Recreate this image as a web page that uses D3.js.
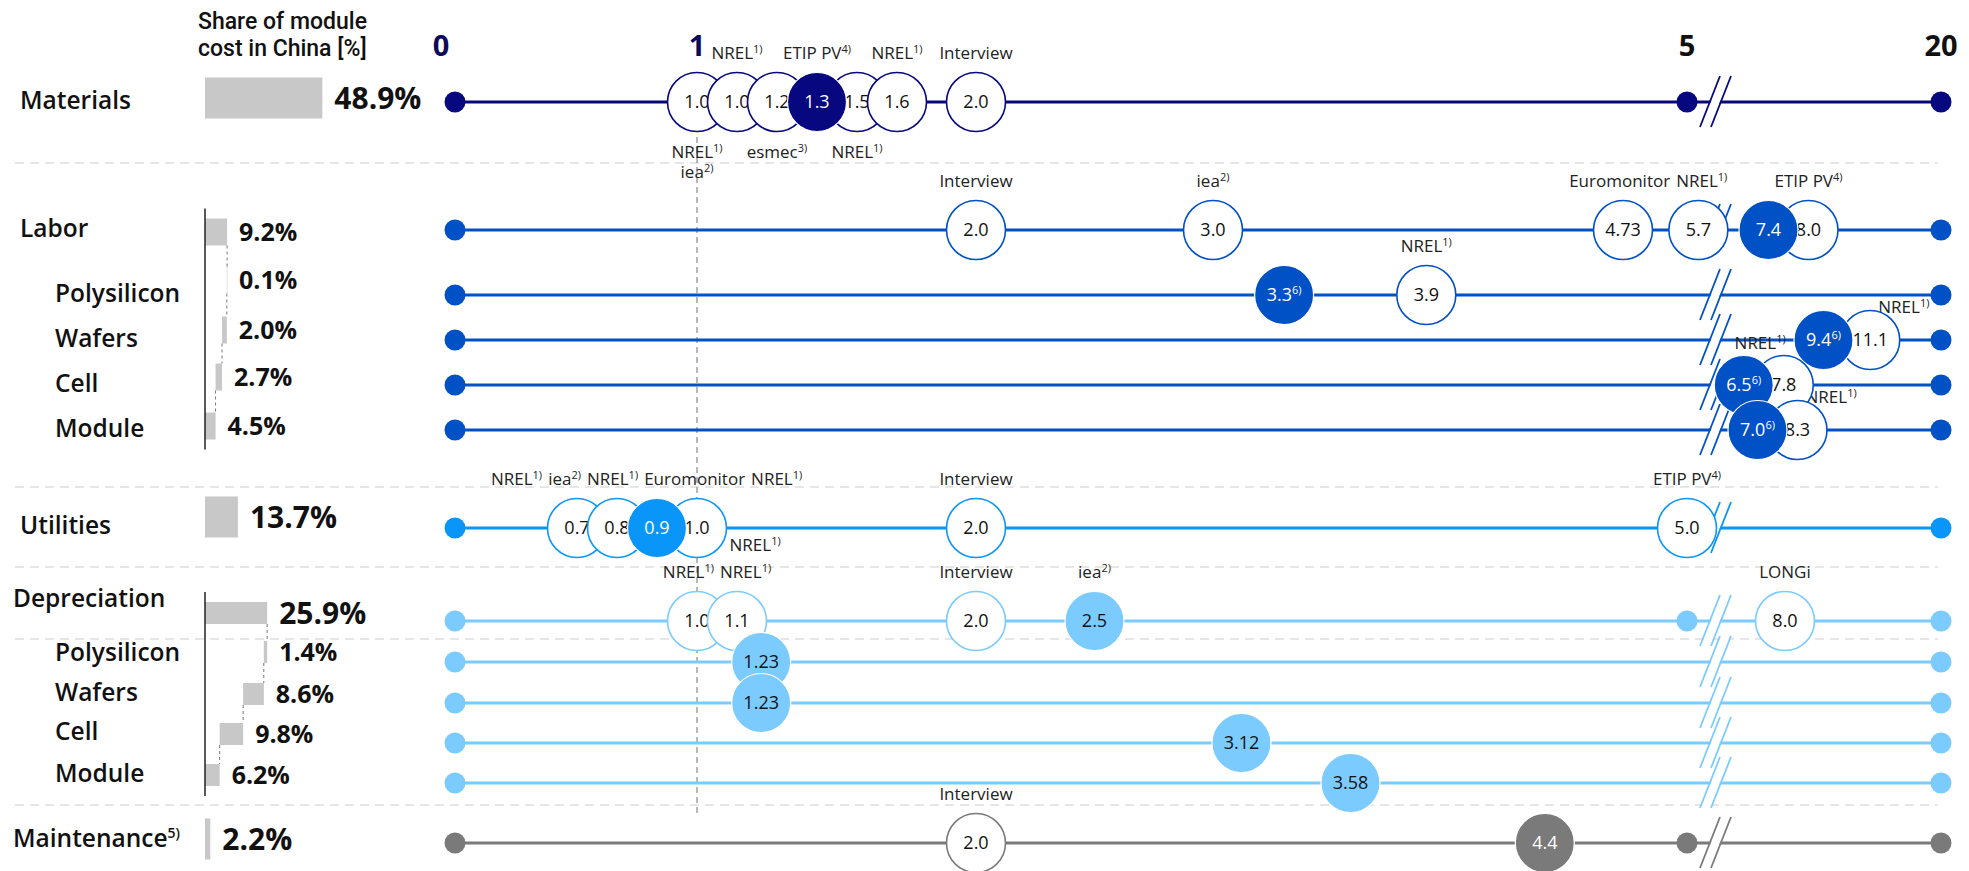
<!DOCTYPE html>
<html>
<head>
<meta charset="utf-8">
<script src="https://cdn.jsdelivr.net/npm/d3@7"></script>
<style>
  body { margin: 0; background: #fff; }
  text { font-family: "Open Sans", sans-serif; }
</style>
</head>
<body>
<div id="chart"></div>
<script>
// ---- data ----
var rowKeys   = ["mat", "lab", "labPoly", "labWaf", "labCell", "labMod", "util", "dep", "depPoly", "depWaf", "depCell", "depMod", "maint"];
var rowNames  = ["Materials", "Labor", "Polysilicon", "Wafers", "Cell", "Module", "Utilities", "Depreciation", "Polysilicon", "Wafers", "Cell", "Module", "Maintenance"];
var rowNotes  = ["", "", "", "", "", "", "", "", "", "", "", "", "5)"];
var rowGroups = ["mat", "lab", "lab", "lab", "lab", "lab", "util", "dep", "dep", "dep", "dep", "dep", "maint"];
var rowShares = [48.9, 9.2, 0.1, 2.0, 2.7, 4.5, 13.7, 25.9, 1.4, 8.6, 9.8, 6.2, 2.2];
var axisTicks = [0, 1, 5, 20];

// estimates: value, hi = highlighted (filled), note, sources [name, footnote, side]
var estMaterials = [
  {v: 1.0, src: [["NREL", "1)", "s"], ["iea", "2)", "s"]]},
  {v: 1.0, src: [["NREL", "1)", "n"]]},
  {v: 1.2, src: [["esmec", "3)", "s"]]},
  {v: 1.3, hi: true, src: [["ETIP PV", "4)", "n"]]},
  {v: 1.5, src: [["NREL", "1)", "s"]]},
  {v: 1.6, src: [["NREL", "1)", "n"]]},
  {v: 2.0, src: [["Interview", "", "n"]]}
];
var estLabor = [
  {v: 2.0, src: [["Interview", "", "n"]]},
  {v: 3.0, src: [["iea", "2)", "n"]]},
  {v: 4.73, src: [["Euromonitor", "", "n"]]},
  {v: 5.7, src: [["NREL", "1)", "n"]]},
  {v: 7.4, hi: true},
  {v: 8.0, src: [["ETIP PV", "4)", "n"]]}
];
var estLabPoly = [{v: 3.3, hi: true, note: "6)"}, {v: 3.9, src: [["NREL", "1)", "n"]]}];
var estLabWaf  = [{v: 9.4, hi: true, note: "6)"}, {v: 11.1, src: [["NREL", "1)", "ne"]]}];
var estLabCell = [{v: 6.5, hi: true, note: "6)"}, {v: 7.8, src: [["NREL", "1)", "nw"]]}];
var estLabMod  = [{v: 7.0, hi: true, note: "6)"}, {v: 8.3, src: [["NREL", "1)", "ne"]]}];
var estUtilities = [
  {v: 0.7, src: [["NREL", "1)", "n"], ["iea", "2)", "n"]]},
  {v: 0.8, src: [["NREL", "1)", "n"]]},
  {v: 0.9, hi: true},
  {v: 1.0, src: [["Euromonitor", "", "n"], ["NREL", "1)", "n"], ["NREL", "1)", "se"]]},
  {v: 2.0, src: [["Interview", "", "n"]]},
  {v: 5.0, src: [["ETIP PV", "4)", "n"]]}
];
var estDepreciation = [
  {v: 1.0, src: [["NREL", "1)", "n"]]},
  {v: 1.1, src: [["NREL", "1)", "n"]]},
  {v: 2.0, src: [["Interview", "", "n"]]},
  {v: 2.5, hi: true, src: [["iea", "2)", "n"]]},
  {v: 8.0, src: [["LONGi", "", "n"]]}
];
var estDepPoly = [{v: 1.23, hi: true}];
var estDepWaf  = [{v: 1.23, hi: true}];
var estDepCell = [{v: 3.12, hi: true}];
var estDepMod  = [{v: 3.58, hi: true}];
var estMaintenance = [{v: 2.0, src: [["Interview", "", "n"]]}, {v: 4.4, hi: true}];

var estimates = [estMaterials, estLabor, estLabPoly, estLabWaf, estLabCell, estLabMod,
                 estUtilities, estDepreciation, estDepPoly, estDepWaf, estDepCell, estDepMod, estMaintenance];

// ---- layout ----
var W = 1969, H = 871;
var R = 29.5, DOT = 10.5, GAP = 40;
var X0 = 205;

var svg = d3.select("#chart").append("svg").attr("width", W).attr("height", H);

// broken axis: 0..5 wide, 5..20 squeezed behind the break
var x = d3.scaleLinear()
  .domain([0, 1, 2, 5, 5.8, 6, 12, 20])
  .range([455, 697, 976, 1687, 1700, 1730, 1895, 1941]);
var breakX = x(5.9);

var share = d3.scaleLinear().domain([0, 100]).range([0, 240]);

var lineY = d3.scaleOrdinal().domain(rowKeys).range([102, 230, 295, 340, 385, 430, 528, 621, 662, 703, 743, 783, 843]);
var barY  = d3.scaleOrdinal().domain(rowKeys).range([98, 232, 280, 330, 377, 426, 517, 613, 652, 694, 734, 775, 839]);
var nameY = d3.scaleOrdinal().domain(rowKeys).range([100, 228, 293, 338, 383, 428, 525, 598, 652, 692, 731, 773, 838]);

var colorOf = d3.scaleOrdinal()
  .domain(["mat", "lab", "util", "dep", "maint"])
  .range(["#07077F", "#0050C6", "#0A96F8", "#7BCBFF", "#7A7A7A"]);

function isMain(i) { return rowKeys[i] === rowGroups[i]; }
function barH(i) {
  var g = rowGroups[i];
  if (g === "lab") return 27;
  if (g === "dep") return 22;
  return 41;
}
function fmt(v) {
  return Math.abs(v * 10 - Math.round(v * 10)) < 1e-9 ? v.toFixed(1) : v.toFixed(2);
}
function sup(sel, main, note, size, shift) {
  sel.append("tspan").text(main);
  if (note) sel.append("tspan").attr("font-size", size).attr("dy", -shift).text(note);
}

// ---- separators ----
var sepY = [163, 487, 567, 639, 805];
svg.selectAll(".sep").data(sepY).enter().append("line")
  .attr("x1", 15).attr("x2", 1938)
  .attr("y1", function(d) { return d; }).attr("y2", function(d) { return d; })
  .attr("stroke", "#dedede").attr("stroke-width", 1.6).attr("stroke-dasharray", "9,6");

// reference line at 1
svg.append("line")
  .attr("x1", x(1)).attr("x2", x(1)).attr("y1", 137).attr("y2", 815)
  .attr("stroke", "#8a8a8a").attr("stroke-width", 1.2).attr("stroke-dasharray", "6,4");

// ---- left table: share of module cost (waterfall) ----
var barX = [], cursor = X0;
rowKeys.forEach(function(k, i) {
  var w = share(rowShares[i]);
  if (isMain(i)) { barX[i] = [X0, X0 + w]; cursor = X0 + w; }
  else { barX[i] = [cursor - w, cursor]; cursor -= w; }
});

var table = svg.append("g");
table.selectAll("rect").data(rowKeys).enter().append("rect")
  .attr("x", function(d, i) { return barX[i][0]; })
  .attr("y", function(d, i) { return barY(d) - barH(i) / 2; })
  .attr("width", function(d, i) { return Math.max(0.5, barX[i][1] - barX[i][0]); })
  .attr("height", function(d, i) { return barH(i); })
  .attr("fill", "#c8c8c8");

// dashed connectors between waterfall steps
rowKeys.forEach(function(k, i) {
  if (isMain(i)) return;
  var p = rowKeys[i - 1];
  table.append("line")
    .attr("x1", barX[i][1]).attr("x2", barX[i][1])
    .attr("y1", barY(p) + barH(i - 1) / 2).attr("y2", barY(k) - barH(i) / 2)
    .attr("stroke", "#777").attr("stroke-width", 1).attr("stroke-dasharray", "3,3");
});

// group axes
["lab", "dep"].forEach(function(g) {
  var idx = rowGroups.map(function(d, i) { return d === g ? i : -1; }).filter(function(i) { return i >= 0; });
  var a = idx[0], b = idx[idx.length - 1];
  table.append("line")
    .attr("x1", X0).attr("x2", X0)
    .attr("y1", barY(rowKeys[a]) - barH(a) / 2 - 10)
    .attr("y2", barY(rowKeys[b]) + barH(b) / 2 + 10)
    .attr("stroke", "#222").attr("stroke-width", 1.5);
});

table.selectAll(".pct").data(rowKeys).enter().append("text")
  .attr("x", function(d, i) { return barX[i][1] + 12; })
  .attr("y", function(d) { return barY(d); })
  .attr("dy", "0.36em")
  .attr("font-size", function(d, i) { return (isMain(i) && d !== "lab") ? 30 : 25; })
  .attr("font-weight", 700).attr("fill", "#111")
  .text(function(d, i) { return rowShares[i].toFixed(1) + "%"; });

table.selectAll(".name").data(rowKeys).enter().append("text")
  .attr("x", function(d, i) { return isMain(i) ? (d === "dep" || d === "maint" ? 13 : 20) : 55; })
  .attr("y", function(d) { return nameY(d); })
  .attr("dy", "0.36em")
  .attr("font-size", 24.5).attr("font-weight", 600).attr("fill", "#111")
  .each(function(d, i) { sup(d3.select(this), rowNames[i], rowNotes[i], 14, 9); });

// header, one text per line
[["Share of module", 29], ["cost in China [%]", 56]].forEach(function(h) {
  svg.append("text").attr("x", 198).attr("y", h[1])
    .style("font-family", "Roboto, sans-serif")
    .attr("font-size", 23).attr("font-weight", 500).attr("fill", "#111")
    .text(h[0]);
});

// axis tick labels
svg.selectAll(".tick").data(axisTicks).enter().append("text")
  .attr("x", function(d) { return x(d) - (d === 0 ? 14 : 0); })
  .attr("y", 56)
  .attr("text-anchor", "middle")
  .attr("font-size", 29).attr("font-weight", 700)
  .attr("fill", function(d) { return d <= 1 ? "#0B0B5C" : "#111"; })
  .text(function(d) { return d; });

// ---- rows: lines, breaks, end dots ----
var rows = svg.append("g");
rowKeys.forEach(function(k, i) {
  var y = lineY(k), c = colorOf(rowGroups[i]);
  rows.append("line")
    .attr("x1", x(0)).attr("x2", x(20)).attr("y1", y).attr("y2", y)
    .attr("stroke", c).attr("stroke-width", 3);
  // break marks
  rows.append("polygon")
    .attr("points", [[breakX + 6, y - 26], [breakX + 15, y - 26], [breakX - 5, y + 25], [breakX - 14, y + 25]].join(" "))
    .attr("fill", "#fff");
  [0, 11].forEach(function(o) {
    rows.append("line")
      .attr("x1", breakX + o + 5).attr("y1", y - 26)
      .attr("x2", breakX + o - 15).attr("y2", y + 25)
      .attr("stroke", c).attr("stroke-width", 1.8);
  });
  var dots = isMain(i) ? [0, 5, 20] : [0, 20];
  rows.selectAll(null).data(dots).enter().append("circle")
    .attr("cx", function(d) { return x(d); }).attr("cy", y)
    .attr("r", DOT).attr("fill", c);
});

// ---- dodge circles along each row ----
function dodge(list) {
  var xs = list.map(function(d) { return x(d.v); });
  var a = list.findIndex(function(d) { return d.v >= 1; });
  if (a < 0) a = 0;
  for (var i = a + 1; i < xs.length; i++) xs[i] = Math.max(xs[i], xs[i - 1] + GAP);
  for (var j = a - 1; j >= 0; j--) xs[j] = Math.min(xs[j], xs[j + 1] - GAP);
  return xs;
}
estimates.forEach(function(list) {
  var xs = dodge(list);
  list.forEach(function(d, j) { d.x = xs[j]; });
});

// pack source labels so they do not collide
function pack(list, gap) {
  var cls = [];
  list.forEach(function(d) {
    var c = {items: [d], offs: [0], W: d.w, sum: d.c - d.w / 2, n: 1};
    c.L = c.sum;
    while (cls.length) {
      var p = cls[cls.length - 1];
      if (p.L + p.W + gap <= c.L) break;
      cls.pop();
      var shift = p.W + gap;
      c = {items: p.items.concat(c.items),
           offs: p.offs.concat(c.offs.map(function(o) { return o + shift; })),
           W: p.W + gap + c.W,
           sum: p.sum + c.sum - c.n * shift,
           n: p.n + c.n};
      c.L = c.sum / c.n;
    }
    cls.push(c);
  });
  cls.forEach(function(c) { c.items.forEach(function(d, k) { d.left = c.L + c.offs[k]; }); });
}

var labels = svg.append("g");
rowKeys.forEach(function(k, i) {
  var y = lineY(k), items = [];
  estimates[i].forEach(function(e) {
    var lev = 0;
    (e.src || []).forEach(function(s) {
      items.push({name: s[0], fn: s[1], side: s[2], c: e.x, level: s[2] === "s" ? lev++ : 0});
    });
  });
  items.forEach(function(it) {
    it.node = labels.append("text").attr("font-size", 17).attr("fill", "#222").attr("dy", "0.35em");
    sup(it.node, it.name, it.fn, 11, 6);
    it.w = it.node.node().getComputedTextLength();
  });
  var packed = d3.group(items.filter(function(d) { return d.side === "n" || d.side === "s"; }),
                        function(d) { return d.side + d.level; });
  packed.forEach(function(list) { pack(list, 6); });
  items.forEach(function(it) {
    var t = it.node;
    if (it.side === "n") t.attr("x", it.left).attr("y", y - 49);
    else if (it.side === "s") t.attr("x", it.left).attr("y", y + 50 + 20 * it.level);
    else if (it.side === "se") t.attr("x", it.c + R + 3).attr("y", y + 17);
    else if (it.side === "ne") t.attr("x", it.c + 8).attr("y", y - 33);
    else if (it.side === "nw") t.attr("x", it.c + 2).attr("y", y - 42).attr("text-anchor", "end");
  });
});

// ---- circles ----
var circles = svg.append("g");
rowKeys.forEach(function(k, i) {
  var y = lineY(k), g = rowGroups[i], c = colorOf(g);
  var ordered = estimates[i].filter(function(d) { return !d.hi; })
    .concat(estimates[i].filter(function(d) { return d.hi; }));
  var node = circles.selectAll(null).data(ordered).enter().append("g")
    .attr("transform", function(d) { return "translate(" + d.x + "," + y + ")"; });
  node.append("circle")
    .attr("r", R)
    .attr("fill", function(d) { return d.hi ? c : "#fff"; })
    .attr("stroke", function(d) { return d.hi ? "#fff" : c; })
    .attr("stroke-width", function(d) { return d.hi ? 1.2 : 1.6; });
  node.append("text")
    .attr("text-anchor", "middle").attr("dy", "0.36em")
    .attr("font-size", 18)
    .attr("fill", function(d) { return d.hi && g !== "dep" ? "#fff" : "#111"; })
    .each(function(d) { sup(d3.select(this), fmt(d.v), d.note, 11, 7); });
});
</script>
</body>
</html>
